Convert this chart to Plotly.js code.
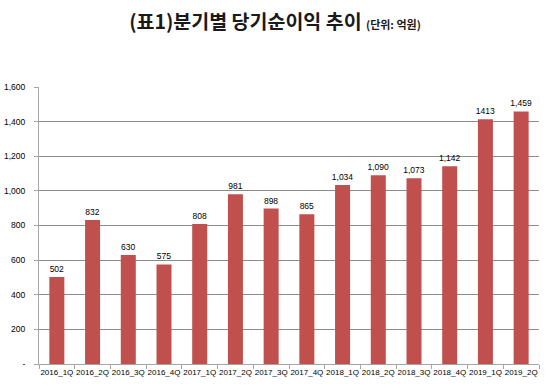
<!DOCTYPE html>
<html><head><meta charset="utf-8">
<script src="https://cdn.plot.ly/plotly-3.0.1.min.js"></script>
<style>html,body{margin:0;padding:0;background:#fff;}#c{width:550px;height:385px;}</style>
</head><body><div id="c"></div>
<script>
var quarters = ["2016_1Q","2016_2Q","2016_3Q","2016_4Q","2017_1Q","2017_2Q","2017_3Q","2017_4Q","2018_1Q","2018_2Q","2018_3Q","2018_4Q","2019_1Q","2019_2Q"];
var netIncome = [502,832,630,575,808,981,898,865,1034,1090,1073,1142,1413,1459];
var barLabels = ["502","832","630","575","808","981","898","865","1,034","1,090","1,073","1,142","1413","1,459"];
var yTickVals = [0,200,400,600,800,1000,1200,1400,1600];
var yTickText = ["-","200","400","600","800","1,000","1,200","1,400","1,600"];

var font = "Noto Sans CJK KR, Noto Sans, sans-serif";
var lfont = "Liberation Sans, Arial, sans-serif";
Plotly.newPlot("c", [{
  type: "bar", x: quarters, y: netIncome,
  marker: {color: "#C0504D"},
  text: barLabels, textposition: "outside", cliponaxis: false, constraintext: "none",
  textfont: {family: lfont, size: 8.5, color: "#000"},
  hoverinfo: "none"
}], {
  width: 550, height: 385,
  margin: {l: 39, r: 11, t: 87, b: 21, pad: 0},
  paper_bgcolor: "#fff", plot_bgcolor: "#fff",
  bargap: 0.58,
  showlegend: false,
  title: {text: "<b>(표1)분기별 당기순이익 추이</b> <b><span style='font-size:11px'>(단위: 억원)</span></b>",
    font: {family: font, size: 19.5, color: "#1a1a1a"}, x: 0.5, xanchor: "center", y: 0.943, yanchor: "middle"},
  xaxis: {
    type: "category", tickson: "boundaries", ticks: "outside", ticklen: 4, tickcolor: "#a6a6a6",
    showline: true, linecolor: "#a6a6a6", linewidth: 1, showgrid: false, tickangle: 0,
    tickfont: {family: lfont, size: 8, color: "#000"}, fixedrange: true
  },
  yaxis: {
    range: [0, 1600], tickvals: yTickVals, ticktext: yTickText,
    ticks: "outside", ticklen: 4, tickcolor: "#a6a6a6", ticklabelstandoff: 7,
    showline: true, linecolor: "#a6a6a6", linewidth: 1,
    showgrid: true, gridcolor: "#8c8c8c", gridwidth: 1, zeroline: false,
    tickfont: {family: lfont, size: 8.5, color: "#000"}, fixedrange: true
  }
}, {displayModeBar: false, staticPlot: true});
</script></body></html>
